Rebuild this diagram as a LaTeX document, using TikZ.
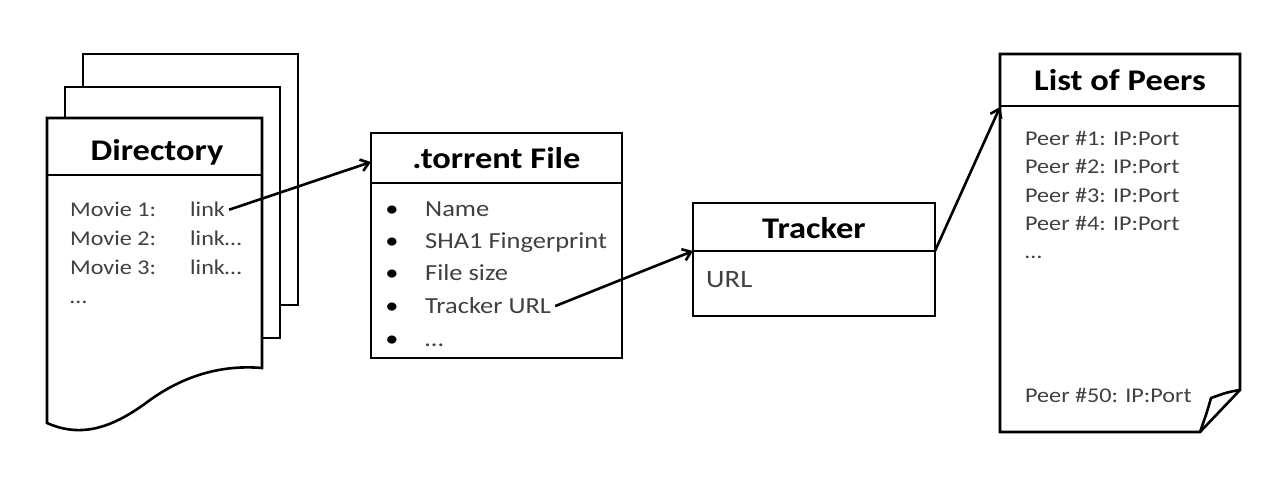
\documentclass[tikz,border=0pt]{standalone}
\usepackage{fontspec}
\setmainfont{Carlito}[FakeStretch=1.15]
\usetikzlibrary{arrows.meta}
\definecolor{bodytext}{gray}{0.25}
\tikzset{
  outline/.style={draw=black, line width=2.6pt, line join=miter, fill=white},
  title/.style={font=\fontsize{30}{34}\selectfont\bfseries, text=black, anchor=base, inner sep=0pt},
  body/.style={font=\fontsize{21}{25}\selectfont, text=bodytext, anchor=base west, inner sep=0pt},
  bodylarge/.style={body, font=\fontsize{23}{27}\selectfont},
  bullet/.style={font=\fontsize{23}{27}\selectfont, text=black, anchor=base, inner sep=0pt},
  link/.style={line width=2.6pt, -{Straight Barb[length=8pt,width=12pt,line width=2.6pt]}},
}
\begin{document}
\begin{tikzpicture}[x=1pt,y=-1pt]
\useasboundingbox (0,0) rectangle (1275,491);
% ---------------- Directory stack
\draw[outline] (83,54) rectangle (298,305);
\draw[outline] (65,87) rectangle (280,338);
\draw[outline] (47,118) -- (262,118) -- (262,368)
  .. controls (215,364) and (178,380) .. (150,400)
  .. controls (118,424) and (85,440) .. (47,423) -- cycle;
\draw[line width=2.6pt] (47,175) -- (262,175);
\node[title] (dirtitle) at (157,160) {Directory};
\node[body] (m1) at (70,216) {Movie 1:};
\node[body] (m2) at (70,245) {Movie 2:};
\node[body] (m3) at (70,274) {Movie 3:};
\node[body] (m4) at (70,303) {\dots};
\node[body] (l1) at (190,216) {link};
\node[body] (l2) at (190,245) {link\dots};
\node[body] (l3) at (190,274) {link\dots};
% ---------------- .torrent File
\node[outline, minimum width=251pt, minimum height=225pt, inner sep=0pt] (torrent) at (496.5,245.5) {};
\draw[line width=2.6pt] (371,183) -- (622,183);
\node[title] (tortitle) at (496.5,168) {.torrent File};
\foreach \i/\t/\y in {1/Name/216, 2/SHA1 Fingerprint/248, 3/File size/280, 4/Tracker URL/313, 5/\dots/346}{
  \node[bullet] (tb\i) at (392,\y) {\textbullet};
  \node[bodylarge] (tt\i) at (425,\y) {\t};
}
% ---------------- Tracker
\node[outline, minimum width=242pt, minimum height=113pt, inner sep=0pt] (tracker) at (814,259.5) {};
\draw[line width=2.6pt] (693,251) -- (935,251);
\node[title] (tracktitle) at (814,238) {Tracker};
\node[body, font=\fontsize{25}{29}\selectfont] (url) at (706,287) {URL};
% ---------------- List of Peers
\draw[outline] (1000,54) -- (1240,54) -- (1240,390) -- (1200,432) -- (1000,432) -- cycle;
\draw[line width=2.6pt, line join=round] (1240,390) .. controls (1228,392) .. (1211,398) .. controls (1207,412) .. (1200,432);
\draw[line width=2.6pt] (1000,106) -- (1240,106);
\node[title] (peertitle) at (1120,90) {List of Peers};
\node[body] (p1) at (1025,145) {Peer \#1: IP:Port};
\node[body] (p2) at (1025,173) {Peer \#2: IP:Port};
\node[body] (p3) at (1025,202) {Peer \#3: IP:Port};
\node[body] (p4) at (1025,230) {Peer \#4: IP:Port};
\node[body] (p5) at (1025,258) {\dots};
\node[body] (p50) at (1025,402) {Peer \#50: IP:Port};
% ---------------- connectors
\coordinate (torin) at (371,162);
\coordinate (trackin) at (693,251);
\coordinate (trackout) at (935,251);
\coordinate (peerin) at (1000,107);
\draw[link] ([xshift=4pt,yshift=-1pt]l1.east) -- (torin);
\draw[link] ([xshift=4pt,yshift=-1pt]tt4.east) -- (trackin);
\draw[link] (trackout) -- (peerin);
\end{tikzpicture}
\end{document}
